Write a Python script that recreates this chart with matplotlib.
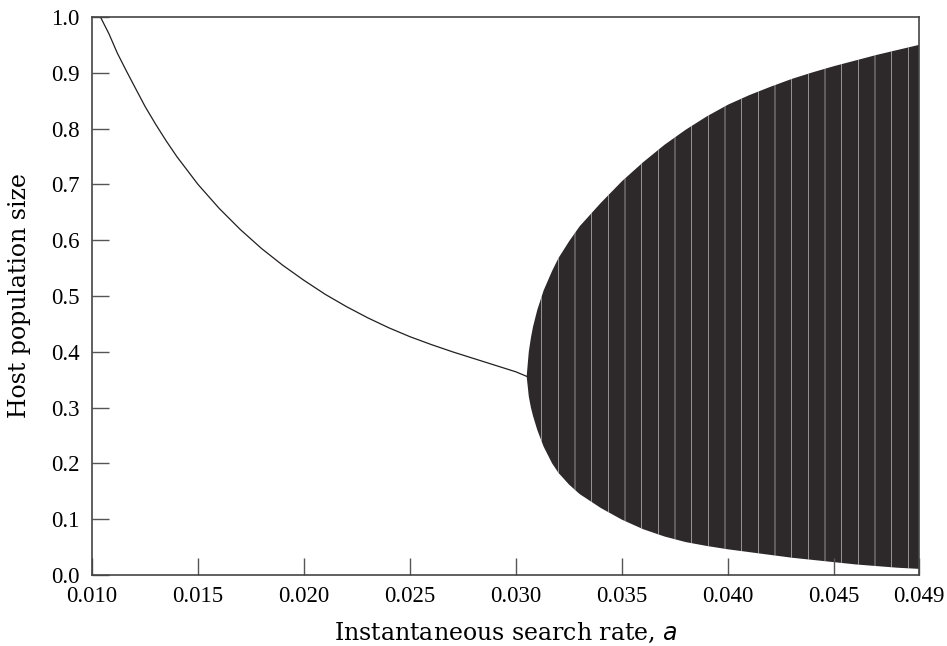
import matplotlib
matplotlib.use("Agg")
import matplotlib.pyplot as plt

plt.rcParams['font.family'] = ['DejaVu Serif']
plt.rcParams['hatch.linewidth'] = 0.35

# stable equilibrium branch
a_stable = [0.0104, 0.0108, 0.0112, 0.0116, 0.012, 0.0125, 0.013, 0.0135, 0.014,
            0.015, 0.016, 0.017, 0.018, 0.019, 0.020, 0.021, 0.022, 0.023,
            0.024, 0.025, 0.026, 0.027, 0.028, 0.029, 0.030, 0.0305]
n_stable = [1.0, 0.97, 0.935, 0.905, 0.876, 0.84, 0.808, 0.778, 0.75,
            0.70, 0.657, 0.619, 0.585, 0.555, 0.528, 0.503, 0.481, 0.461,
            0.443, 0.427, 0.413, 0.40, 0.388, 0.376, 0.364, 0.356]

# envelope of the chaotic region
a_chaos = [0.0305, 0.0306, 0.0307, 0.0308, 0.031, 0.0313, 0.0317, 0.032, 0.0325,
           0.033, 0.034, 0.035, 0.036, 0.037, 0.038, 0.039, 0.040, 0.041,
           0.042, 0.043, 0.044, 0.045, 0.046, 0.047, 0.048, 0.049]
n_upper = [0.356, 0.40, 0.425, 0.445, 0.475, 0.51, 0.545, 0.568, 0.598,
           0.625, 0.667, 0.706, 0.740, 0.771, 0.798, 0.822, 0.843, 0.86,
           0.875, 0.889, 0.901, 0.912, 0.922, 0.932, 0.941, 0.95]
n_lower = [0.356, 0.32, 0.30, 0.285, 0.26, 0.23, 0.20, 0.183, 0.162,
           0.145, 0.12, 0.099, 0.082, 0.069, 0.059, 0.052, 0.046, 0.041,
           0.036, 0.031, 0.027, 0.023, 0.019, 0.016, 0.013, 0.011]

x_ticks = [0.010, 0.015, 0.020, 0.025, 0.030, 0.035, 0.040, 0.045, 0.049]
x_labels = ['0.010', '0.015', '0.020', '0.025', '0.030', '0.035', '0.040', '0.045', '0.049']
y_ticks = [0.0, 0.1, 0.2, 0.3, 0.4, 0.5, 0.6, 0.7, 0.8, 0.9, 1.0]

ink = '#231f20'

fig = plt.figure(figsize=(9.47, 6.46), dpi=100)
ax = fig.add_axes([0.0971, 0.1099, 0.8733, 0.8638])

ax.plot(a_stable, n_stable, color=ink, lw=0.9)
ax.fill_between(a_chaos, n_lower, n_upper, facecolor='#2d292a', edgecolor='white',
                hatch='|', linewidth=0)

ax.set_xlim(0.010, 0.049)
ax.set_ylim(0.0, 1.0)
ax.set_xticks(x_ticks)
ax.set_xticklabels(x_labels)
ax.set_yticks(y_ticks)
ax.set_yticklabels(['%.1f' % v for v in y_ticks])
ax.tick_params(direction='in', length=12, width=1, color='#555555')
ax.tick_params(axis='x', pad=8)
ax.tick_params(axis='y', pad=9)
for lab in ax.get_xticklabels() + ax.get_yticklabels():
    lab.set_family('Liberation Serif')
    lab.set_fontsize(16.5)
for s in ax.spines.values():
    s.set_color('#444444')
    s.set_linewidth(1.2)

ax.set_xlabel('Instantaneous search rate, $\\it{a}$', fontsize=17, labelpad=10)
ax.set_ylabel('Host population size', fontsize=17, labelpad=14)

fig.savefig('out.png', dpi=100)
